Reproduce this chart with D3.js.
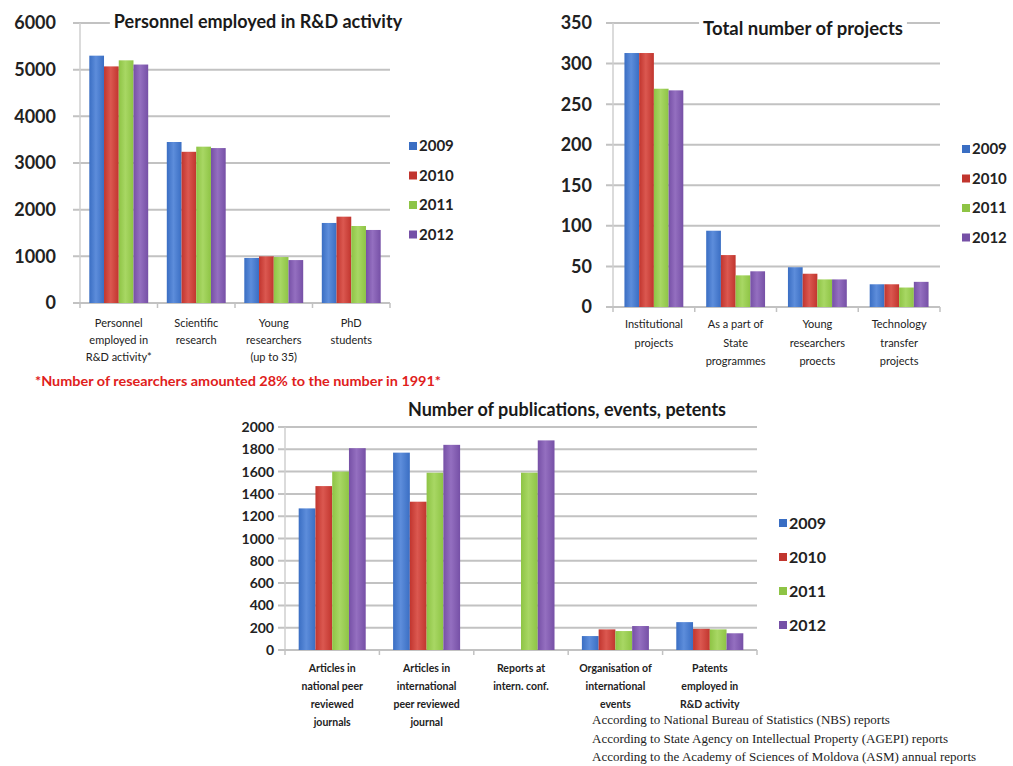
<!DOCTYPE html>
<html>
<head>
<meta charset="utf-8">
<script src="https://cdn.jsdelivr.net/npm/d3@7"></script>
<style>
  body { margin: 0; background: #fff; }
  svg { display: block; }
</style>
</head>
<body>
<script>
// data
var years = ["2009", "2010", "2011", "2012"];
var colors = ["#3a6ec3", "#c1352e", "#8ec445", "#7650a6"];
var lightColors = ["#5d8ddb", "#db5850", "#a8d764", "#946fc0"];

var personnelCats = [["Personnel", "employed in", "R&D activity*"], ["Scientific", "research"],
                     ["Young", "researchers", "(up to 35)"], ["PhD", "students"]];
var personnel2009 = [5300, 3450, 965, 1715];
var personnel2010 = [5070, 3240, 1000, 1850];
var personnel2011 = [5200, 3350, 985, 1650];
var personnel2012 = [5110, 3320, 920, 1565];
var personnelTicks = [0, 1000, 2000, 3000, 4000, 5000, 6000];

var projectCats = [["Institutional", "projects"], ["As a part of", "State", "programmes"],
                   ["Young", "researchers", "proects"], ["Technology", "transfer", "projects"]];
var projects2009 = [313, 94, 49, 28];
var projects2010 = [313, 64, 41, 28];
var projects2011 = [269, 39, 34, 24];
var projects2012 = [267, 44, 34, 31];
var projectTicks = [0, 50, 100, 150, 200, 250, 300, 350];

var pubCats = [["Articles in", "national peer", "reviewed", "journals"],
               ["Articles in", "international", "peer reviewed", "journal"],
               ["Reports at", "intern. conf."],
               ["Organisation of", "international", "events"],
               ["Patents", "employed in", "R&D activity"]];
var pubs2009 = [1270, 1770, 0, 125, 250];
var pubs2010 = [1470, 1330, 0, 185, 190];
var pubs2011 = [1600, 1590, 1590, 170, 185];
var pubs2012 = [1810, 1840, 1880, 215, 150];
var pubTicks = [0, 200, 400, 600, 800, 1000, 1200, 1400, 1600, 1800, 2000];

var footnote = "*Number of researchers amounted 28% to the number in 1991*";
var sources = ["According to National Bureau of Statistics (NBS) reports",
               "According to State Agency on Intellectual Property (AGEPI) reports",
               "According to the Academy of Sciences of Moldova (ASM) annual reports"];

var svg = d3.select("body").append("svg")
    .attr("width", 1013)
    .attr("height", 766)
    .style("font-family", "Lato, 'Open Sans', sans-serif");

// bar gradients, darker at the edges
var defs = svg.append("defs");
colors.forEach(function(c, i) {
    var g = defs.append("linearGradient").attr("id", "g" + i)
        .attr("x1", "0%").attr("x2", "100%").attr("y1", "0%").attr("y2", "0%");
    g.append("stop").attr("offset", "0%").attr("stop-color", c);
    g.append("stop").attr("offset", "45%").attr("stop-color", lightColors[i]);
    g.append("stop").attr("offset", "100%").attr("stop-color", c);
});

function drawChart(o) {
    var g = svg.append("g");
    var y = d3.scaleLinear().domain([0, o.max]).range([o.y0, o.y1]);
    var x = d3.scaleBand().domain(d3.range(o.cats.length)).range([o.x0, o.x1]);
    var inner = d3.scaleBand().domain(d3.range(years.length))
        .range([x.bandwidth() * o.gpad, x.bandwidth() * (1 - o.gpad)]);

    // gridlines
    g.selectAll(".grid")
        .data(o.ticks.slice(1))
        .enter()
        .append("line")
        .attr("x1", o.x0 - 7)
        .attr("x2", o.x1)
        .attr("y1", function(d) { return y(d); })
        .attr("y2", function(d) { return y(d); })
        .attr("stroke", "#c2c2c2")
        .attr("stroke-width", 2);

    // axes
    g.append("line").attr("x1", o.x0).attr("x2", o.x0).attr("y1", o.y1).attr("y2", o.y0)
        .attr("stroke", "#cfcfcf").attr("stroke-width", 1.5);
    g.append("line").attr("x1", o.x0 - 7).attr("x2", o.x1).attr("y1", o.y0).attr("y2", o.y0)
        .attr("stroke", "#c2c2c2").attr("stroke-width", 2);
    g.selectAll(".xt")
        .data(d3.range(o.cats.length + 1))
        .enter()
        .append("line")
        .attr("x1", function(d) { return o.x0 + d * x.step(); })
        .attr("x2", function(d) { return o.x0 + d * x.step(); })
        .attr("y1", o.y0)
        .attr("y2", o.y0 + 5)
        .attr("stroke", "#c2c2c2")
        .attr("stroke-width", 1.5);

    // y tick labels
    g.selectAll(".yl")
        .data(o.ticks)
        .enter()
        .append("text")
        .attr("x", o.labelX)
        .attr("y", function(d) { return y(d); })
        .attr("dy", "0.36em")
        .attr("text-anchor", "end")
        .attr("font-size", o.yFont)
        .attr("font-weight", "bold")
        .attr("fill", "#222")
        .text(function(d) { return d; });

    // bars
    var groups = g.selectAll(".grp")
        .data(o.cats)
        .enter()
        .append("g")
        .attr("transform", function(d, i) { return "translate(" + x(i) + ",0)"; });
    groups.selectAll("rect")
        .data(function(d, i) { return o.series.map(function(s) { return s[i]; }); })
        .enter()
        .append("rect")
        .attr("x", function(d, j) { return inner(j); })
        .attr("width", inner.bandwidth())
        .attr("y", function(d) { return y(d); })
        .attr("height", function(d) { return o.y0 - y(d); })
        .attr("fill", function(d, j) { return "url(#g" + j + ")"; });

    // category labels
    groups.append("text")
        .attr("x", x.bandwidth() / 2)
        .attr("text-anchor", "middle")
        .attr("font-size", o.catFont)
        .attr("font-weight", o.catWeight)
        .attr("fill", "#222")
        .selectAll("tspan")
        .data(function(d) { return d; })
        .enter()
        .append("tspan")
        .attr("x", x.bandwidth() / 2)
        .attr("y", function(d, k) { return o.catY + k * o.catStep; })
        .text(function(d) { return d; });

    // title with white box over the gridline
    var t = g.append("text")
        .attr("x", o.titleX)
        .attr("y", o.titleY)
        .attr("text-anchor", "middle")
        .attr("font-size", o.titleFont)
        .attr("font-weight", "bold")
        .attr("fill", "#1a1a1a")
        .text(o.title);
    var bb = t.node().getBBox();
    g.insert("rect", "text")
        .attr("x", bb.x - 4).attr("y", bb.y).attr("width", bb.width + 8).attr("height", bb.height)
        .attr("fill", "#fff");

    // legend
    var leg = g.selectAll(".leg")
        .data(years)
        .enter()
        .append("g")
        .attr("transform", function(d, i) { return "translate(" + o.legX + "," + (o.legY + i * o.legStep) + ")"; });
    leg.append("rect")
        .attr("x", 0).attr("y", -4).attr("width", 8).attr("height", 8)
        .attr("fill", function(d, i) { return colors[i]; });
    leg.append("text")
        .attr("x", 10)
        .attr("dy", "0.36em")
        .attr("font-size", o.legFont)
        .attr("font-weight", "bold")
        .attr("fill", "#222")
        .text(function(d) { return d; });
}

drawChart({
    cats: personnelCats, series: [personnel2009, personnel2010, personnel2011, personnel2012],
    max: 6000, ticks: personnelTicks,
    x0: 80, x1: 390, y0: 303, y1: 23, gpad: 0.12,
    labelX: 56, yFont: 18,
    catY: 327, catStep: 17, catFont: 11, catWeight: "normal",
    title: "Personnel employed in  R&D activity", titleX: 258, titleY: 28, titleFont: 18,
    legX: 409, legY: 146, legStep: 29.5, legFont: 15
});

drawChart({
    cats: projectCats, series: [projects2009, projects2010, projects2011, projects2012],
    max: 350, ticks: projectTicks,
    x0: 613, x1: 940, y0: 307, y1: 23, gpad: 0.14,
    labelX: 592, yFont: 18,
    catY: 328, catStep: 18.5, catFont: 11, catWeight: "normal",
    title: "Total number of projects", titleX: 803, titleY: 35, titleFont: 18.5,
    legX: 962, legY: 149, legStep: 29.5, legFont: 15
});

drawChart({
    cats: pubCats, series: [pubs2009, pubs2010, pubs2011, pubs2012],
    max: 2000, ticks: pubTicks,
    x0: 285, x1: 757, y0: 650, y1: 427, gpad: 0.145,
    labelX: 274, yFont: 14,
    catY: 672, catStep: 18, catFont: 10.5, catWeight: "bold",
    title: "Number of publications,  events,  petents", titleX: 567, titleY: 416, titleFont: 18,
    legX: 779, legY: 523, legStep: 34, legFont: 16
});

// red footnote under first chart
svg.append("text")
    .attr("x", 35)
    .attr("y", 386)
    .attr("textLength", 406)
    .attr("lengthAdjust", "spacingAndGlyphs")
    .attr("font-size", 13)
    .attr("font-weight", "bold")
    .attr("fill", "#e0201b")
    .text(footnote);

// source notes
svg.selectAll(".src")
    .data(sources)
    .enter()
    .append("text")
    .attr("x", 592)
    .attr("y", function(d, i) { return 724 + i * 18.5; })
    .attr("font-family", "'Liberation Serif', 'DejaVu Serif', serif")
    .attr("font-size", 13)
    .attr("fill", "#222")
    .text(function(d) { return d; });
</script>
</body>
</html>
